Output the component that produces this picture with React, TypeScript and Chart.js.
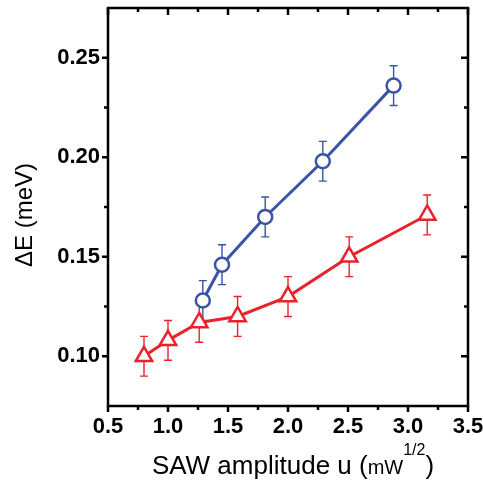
import React, { useEffect, useRef } from "react";
import { Chart, registerables } from "chart.js";

Chart.register(...registerables);

// ---- data ----
const redX = [0.8, 1.0, 1.26, 1.58, 2.0, 2.51, 3.16];
const redY = [0.1, 0.108, 0.117, 0.12, 0.13, 0.15, 0.171];
const redErr = [0.01, 0.01, 0.01, 0.01, 0.01, 0.01, 0.01];

const blueX = [1.29, 1.45, 1.81, 2.29, 2.88];
const blueY = [0.128, 0.146, 0.17, 0.198, 0.236];
const blueErr = [0.01, 0.01, 0.01, 0.01, 0.01];

const xMajorTicks = [0.5, 1.0, 1.5, 2.0, 2.5, 3.0, 3.5];
const xMinorTicks = [0.75, 1.25, 1.75, 2.25, 2.75, 3.25];
const yMajorTicks = [0.1, 0.15, 0.2, 0.25];
const yMinorTicks = [0.125, 0.175, 0.225];

const yTitle = "ΔE (meV)";
const xTitleMain = "SAW amplitude u (";
const xTitleUnit = "mW";
const xTitleSup = "1/2";
const xTitleEnd = ")";

const RED = "#e8232b";
const BLUE = "#3b55a5";
const FONT = "'Liberation Sans', Arial, Helvetica, sans-serif";

const framePlugin = {
  id: "frame",
  beforeDatasetsDraw(chart: any) {
    const { ctx, scales } = chart;
    const x = scales.x;
    const y = scales.y;
    const series = [
      { xs: blueX, ys: blueY, es: blueErr, color: BLUE },
      { xs: redX, ys: redY, es: redErr, color: RED },
    ];
    ctx.save();
    ctx.lineWidth = 1.4;
    for (const s of series) {
      ctx.strokeStyle = s.color;
      for (let i = 0; i < s.xs.length; i++) {
        const px = x.getPixelForValue(s.xs[i]);
        const pTop = y.getPixelForValue(s.ys[i] + s.es[i]);
        const pBot = y.getPixelForValue(s.ys[i] - s.es[i]);
        ctx.beginPath();
        ctx.moveTo(px, pTop);
        ctx.lineTo(px, pBot);
        ctx.moveTo(px - 4, pTop);
        ctx.lineTo(px + 4, pTop);
        ctx.moveTo(px - 4, pBot);
        ctx.lineTo(px + 4, pBot);
        ctx.stroke();
      }
    }
    ctx.restore();
  },
  afterDraw(chart: any) {
    const { ctx, chartArea, scales } = chart;
    const { left, right, top, bottom } = chartArea;
    const x = scales.x;
    const y = scales.y;
    ctx.save();
    ctx.strokeStyle = "#000";
    ctx.lineWidth = 2.5;
    ctx.lineCap = "butt";
    ctx.strokeRect(left, top, right - left, bottom - top);
    ctx.beginPath();
    for (const v of xMajorTicks) {
      const p = x.getPixelForValue(v);
      ctx.moveTo(p, bottom);
      ctx.lineTo(p, bottom + 6);
      ctx.moveTo(p, top);
      ctx.lineTo(p, top + 7);
    }
    for (const v of xMinorTicks) {
      const p = x.getPixelForValue(v);
      ctx.moveTo(p, bottom);
      ctx.lineTo(p, bottom + 4);
      ctx.moveTo(p, top);
      ctx.lineTo(p, top + 4);
    }
    for (const v of yMajorTicks) {
      const p = y.getPixelForValue(v);
      ctx.moveTo(left, p);
      ctx.lineTo(left - 6, p);
      ctx.moveTo(right, p);
      ctx.lineTo(right - 7, p);
    }
    for (const v of yMinorTicks) {
      const p = y.getPixelForValue(v);
      ctx.moveTo(left, p);
      ctx.lineTo(left - 4, p);
      ctx.moveTo(right, p);
      ctx.lineTo(right - 4, p);
    }
    ctx.stroke();

    // y title
    ctx.fillStyle = "#000";
    ctx.save();
    ctx.translate(25, (top + bottom) / 2 + 8);
    ctx.rotate(-Math.PI / 2);
    ctx.font = `24px ${FONT}`;
    ctx.textAlign = "center";
    ctx.textBaseline = "middle";
    ctx.fillText(yTitle, 0, 0);
    ctx.restore();

    // x title with superscript
    const base = 474;
    const mainFont = `26px ${FONT}`;
    const unitFont = `20px ${FONT}`;
    const supFont = `16px ${FONT}`;
    ctx.textAlign = "left";
    ctx.textBaseline = "alphabetic";
    ctx.font = mainFont;
    const w1 = ctx.measureText(xTitleMain).width;
    const w4 = ctx.measureText(xTitleEnd).width;
    ctx.font = unitFont;
    const w2 = ctx.measureText(xTitleUnit).width;
    ctx.font = supFont;
    const w3 = ctx.measureText(xTitleSup).width;
    const total = w1 + w2 + w3 + w4;
    let cx = 293 - total / 2;
    ctx.font = mainFont;
    ctx.fillText(xTitleMain, cx, base);
    cx += w1;
    ctx.font = unitFont;
    ctx.fillText(xTitleUnit, cx, base);
    cx += w2;
    ctx.font = supFont;
    ctx.fillText(xTitleSup, cx, base - 19);
    cx += w3;
    ctx.font = mainFont;
    ctx.fillText(xTitleEnd, cx, base);
    ctx.restore();
  },
};

export default function App() {
  const ref = useRef<HTMLCanvasElement | null>(null);
  useEffect(() => {
    if (!ref.current) return;
    const chart = new Chart(ref.current, {
      type: "line",
      data: {
        datasets: [
          {
            label: "blue",
            data: blueX.map((v, i) => ({ x: v, y: blueY[i] })),
            borderColor: BLUE,
            borderWidth: 3,
            pointStyle: "circle",
            pointRadius: 7,
            pointBorderWidth: 2.5,
            pointBackgroundColor: "#fff",
            pointBorderColor: BLUE,
            tension: 0,
          },
          {
            label: "red",
            data: redX.map((v, i) => ({ x: v, y: redY[i] })),
            borderColor: RED,
            borderWidth: 3,
            pointStyle: "triangle",
            pointRadius: 9.5,
            pointBorderWidth: 2.5,
            pointBackgroundColor: "#fff",
            pointBorderColor: RED,
            tension: 0,
          },
        ],
      },
      options: {
        animation: false,
        responsive: true,
        maintainAspectRatio: false,
        layout: { autoPadding: false, padding: { top: 8, right: 15, left: 0, bottom: 0 } },
        plugins: { legend: { display: false }, tooltip: { enabled: false } },
        scales: {
          x: {
            type: "linear",
            min: 0.5,
            max: 3.5,
            grid: { display: false, drawTicks: false },
            border: { display: false },
            ticks: {
              stepSize: 0.5,
              padding: 8,
              color: "#000",
              font: { family: FONT, size: 22, weight: "bold" },
              callback: (v: any) => Number(v).toFixed(1),
            },
            afterFit: (s: any) => {
              s.height = 79;
              s.paddingLeft = 0;
              s.paddingRight = 0;
            },
          },
          y: {
            type: "linear",
            min: 0.075,
            max: 0.275,
            grid: { display: false, drawTicks: false },
            border: { display: false },
            afterBuildTicks: (s: any) => {
              s.ticks = yMajorTicks.map((v) => ({ value: v }));
            },
            ticks: {
              padding: 8,
              color: "#000",
              font: { family: FONT, size: 22, weight: "bold" },
              callback: (v: any) => Number(v).toFixed(2),
            },
            afterFit: (s: any) => {
              s.width = 108;
              s.paddingTop = 0;
              s.paddingBottom = 0;
            },
          },
        },
      },
      plugins: [framePlugin],
    } as any);
    return () => chart.destroy();
  }, []);
  return (
    <div style={{ position: "fixed", left: 0, top: 0, width: 483, height: 485, background: "#fff" }}>
      <canvas ref={ref} />
    </div>
  );
}
